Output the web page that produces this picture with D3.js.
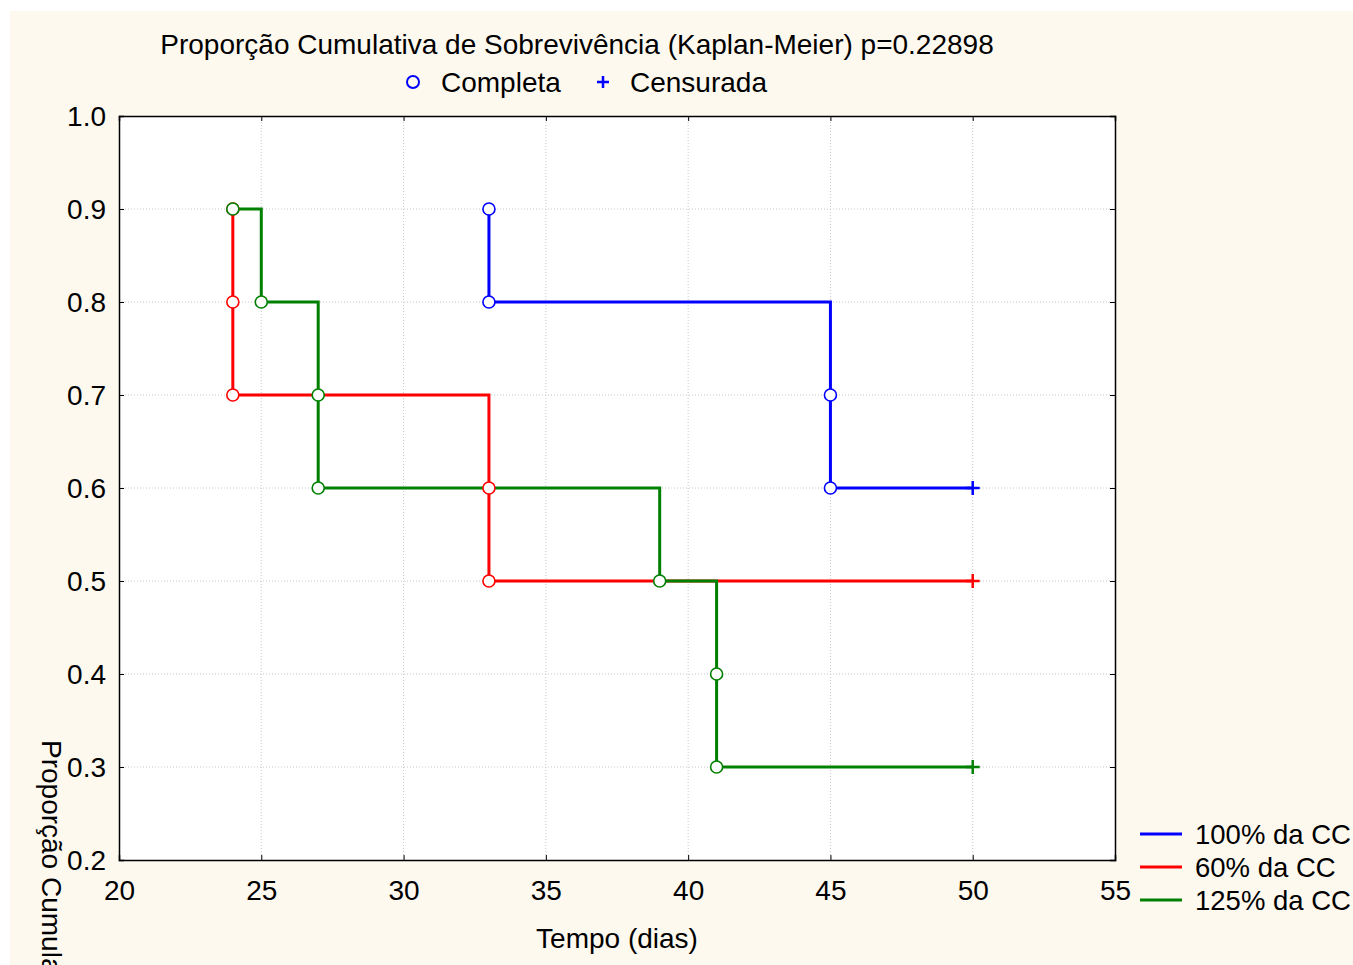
<!DOCTYPE html>
<html><head><meta charset="utf-8">
<script src="https://cdn.jsdelivr.net/npm/d3@7"></script>
<style>body{margin:0;background:#fff;}svg{display:block;font-family:"Liberation Sans",Arial,sans-serif;}</style>
</head><body><svg id="c" width="1353" height="965"></svg>
<script>
const xTicks = [20,25,30,35,40,45,50,55];
const yTicks = [0.2,0.3,0.4,0.5,0.6,0.7,0.8,0.9,1.0];
const seriesNames = ["100% da CC","60% da CC","125% da CC"];
const seriesColors = ["#0000ff","#ff0000","#008000"];
const blueTimes = [33,33,45,45];
const blueProps = [0.9,0.8,0.7,0.6];
const blueCensored = [[50,0.6]];
const redTimes = [24,24,24,33,33];
const redProps = [0.9,0.8,0.7,0.6,0.5];
const redCensored = [[50,0.5]];
const greenTimes = [24,25,27,27,39,41,41];
const greenProps = [0.9,0.8,0.7,0.6,0.5,0.4,0.3];
const greenCensored = [[50,0.3]];

const series = [
  {t:blueTimes,p:blueProps,c:blueCensored},
  {t:redTimes,p:redProps,c:redCensored},
  {t:greenTimes,p:greenProps,c:greenCensored}
];

const FS = 28;
const svg = d3.select("#c");
svg.append("rect").attr("x",10).attr("y",11).attr("width",1343).attr("height",954).attr("fill","#fdf9ef");

const L=119,R=1115,T=116,B=860;
const x = d3.scaleLinear().domain([20,55]).range([L,R]);
const y = d3.scaleLinear().domain([0.2,1.0]).range([B,T]);

svg.append("rect").attr("x",L).attr("y",T).attr("width",R-L).attr("height",B-T).attr("fill","#fff");

// grid
const g = svg.append("g");
g.selectAll(".gx").data(xTicks.slice(1,-1)).join("line")
  .attr("x1",d=>x(d)).attr("x2",d=>x(d)).attr("y1",T).attr("y2",B)
  .attr("stroke","#c8c8c8").attr("stroke-width",1).attr("stroke-dasharray","1,2");
g.selectAll(".gy").data(yTicks.slice(1,-1)).join("line")
  .attr("y1",d=>y(d)).attr("y2",d=>y(d)).attr("x1",L).attr("x2",R)
  .attr("stroke","#c8c8c8").attr("stroke-width",1).attr("stroke-dasharray","1,2");

// axes with inward ticks
const fmt = d3.format(".1f");
const axB = svg.append("g").attr("transform",`translate(0,${B})`)
  .call(d3.axisBottom(x).tickValues(xTicks).tickSize(-5).tickPadding(20).tickFormat(d3.format("d")));
const axL = svg.append("g").attr("transform",`translate(${L},0)`)
  .call(d3.axisLeft(y).tickValues(yTicks).tickSize(-5).tickPadding(13).tickFormat(fmt));
const axT = svg.append("g").attr("transform",`translate(0,${T})`)
  .call(d3.axisTop(x).tickValues(xTicks).tickSize(-5).tickFormat(""));
const axR = svg.append("g").attr("transform",`translate(${R},0)`)
  .call(d3.axisRight(y).tickValues(yTicks).tickSize(-5).tickFormat(""));
[axB,axL,axT,axR].forEach(a=>{
  a.select(".domain").attr("stroke","#000").attr("stroke-width",1.5);
  a.selectAll(".tick line").attr("stroke","#000");
  a.selectAll("text").attr("font-size",FS).attr("fill","#000").attr("font-family","Liberation Sans, Arial, sans-serif");
});
axL.selectAll("text").attr("dy","0.35em");
axB.selectAll("text").attr("dy","0.71em");

// curves
const line = d3.line().x(d=>x(d[0])).y(d=>y(d[1])).curve(d3.curveStepAfter);
series.forEach((s,i)=>{
  const pts = s.t.map((t,j)=>[t,s.p[j]]).concat(s.c);
  svg.append("path").attr("d",line(pts)).attr("fill","none")
    .attr("stroke",seriesColors[i]).attr("stroke-width",3);
});
series.forEach((s,i)=>{
  const pts = s.t.map((t,j)=>[t,s.p[j]]);
  svg.append("g").selectAll("circle").data(pts).join("circle")
    .attr("cx",d=>x(d[0])).attr("cy",d=>y(d[1])).attr("r",6)
    .attr("fill","#fff").attr("stroke",seriesColors[i]).attr("stroke-width",1.6);
  svg.append("g").selectAll("path").data(s.c).join("path")
    .attr("d",d=>{const cx=x(d[0]),cy=y(d[1]);return `M${cx-7},${cy}H${cx+7}M${cx},${cy-7}V${cy+7}`;})
    .attr("stroke",seriesColors[i]).attr("stroke-width",2.5).attr("fill","none");
});

// title
svg.append("text").attr("x",577).attr("y",54).attr("text-anchor","middle")
  .attr("font-size",FS).text("Proporção Cumulativa de Sobrevivência (Kaplan-Meier) p=0.22898");
// top legend
svg.append("circle").attr("cx",413).attr("cy",82).attr("r",6).attr("fill","none").attr("stroke","#0000ff").attr("stroke-width",2);
svg.append("text").attr("x",441).attr("y",92).attr("font-size",FS).text("Completa");
svg.append("path").attr("d","M597,82H609M603,76V88").attr("stroke","#0000ff").attr("stroke-width",2.5);
svg.append("text").attr("x",630).attr("y",92).attr("font-size",FS).text("Censurada");

// axis titles
svg.append("text").attr("x",617).attr("y",948).attr("text-anchor","middle").attr("font-size",FS).text("Tempo (dias)");
svg.append("text").attr("transform","translate(42,740) rotate(90)").attr("font-size",FS)
  .text("Proporção Cumulativa de Sobrevivência");

// right legend
seriesNames.forEach((n,i)=>{
  const yy = 834 + i*33;
  svg.append("line").attr("x1",1140).attr("x2",1182).attr("y1",yy).attr("y2",yy)
    .attr("stroke",seriesColors[i]).attr("stroke-width",3);
  svg.append("text").attr("x",1195).attr("y",yy+10).attr("font-size",27.5).text(n);
});
</script></body></html>
